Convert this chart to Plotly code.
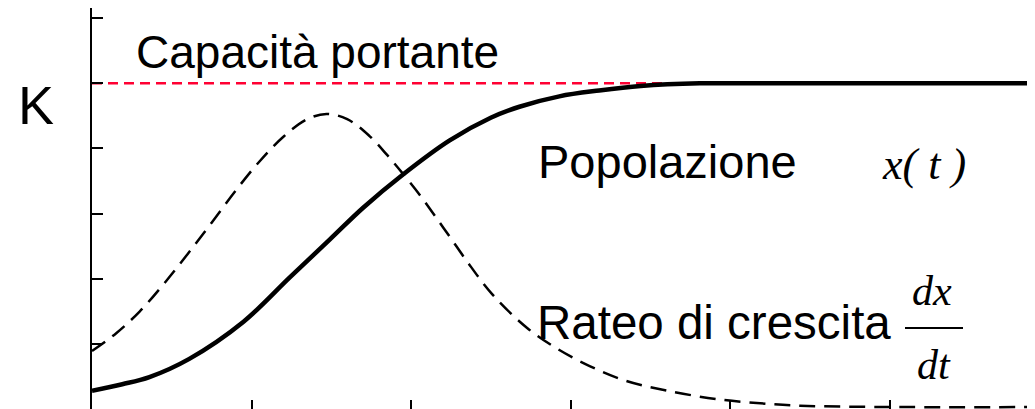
import plotly.graph_objects as go

# Data
K = 5.0
t_pop = [0.0, 0.19, 0.36, 0.61, 0.95, 1.24, 1.49, 1.70, 1.95, 2.24, 2.50, 2.68, 2.93, 3.18, 3.44, 3.81, 4.06, 5.91]
x_pop = [0.28, 0.38, 0.49, 0.77, 1.34, 2.02, 2.60, 3.09, 3.60, 4.12, 4.47, 4.64, 4.80, 4.89, 4.96, 5.0, 5.0, 5.0]

t_rate = [0.0, 0.15, 0.30, 0.45, 0.60, 0.75, 0.90, 1.05, 1.20, 1.35, 1.47, 1.60, 1.74, 1.85, 1.95,
          2.06, 2.16, 2.25, 2.35, 2.51, 2.73, 2.92, 3.12, 3.35, 3.61, 3.92, 4.23, 4.44, 5.07, 5.91]
r_rate = [0.89, 1.16, 1.50, 1.92, 2.38, 2.86, 3.35, 3.80, 4.18, 4.45, 4.53, 4.45, 4.19, 3.90, 3.61,
          3.27, 2.93, 2.62, 2.27, 1.76, 1.24, 0.92, 0.66, 0.43, 0.28, 0.15, 0.08, 0.05, 0.03, 0.03]

t_cap = [0.0, 5.91]
x_ticks = [0, 1, 2, 3, 4, 5]
y_ticks = [0, 1, 2, 3, 4, 5, 6]

# the page body adds an 8px offset, so the figure is laid out in screen coords minus 8
OFF = 8
W, H = 1035 - OFF, 409 - OFF
L = 92 - OFF
T = 8 - OFF
PW, PH = W - L, H - T


def px(x):
    return (x - OFF - L) / PW


def py(y):
    return (H - (y - OFF)) / PH


fig = go.Figure()
fig.add_trace(go.Scatter(x=t_cap, y=[K] * len(t_cap), mode="lines",
                         line=dict(color="#FF0033", width=2.5, dash="10px,6px"), hoverinfo="skip"))
fig.add_trace(go.Scatter(x=t_rate, y=r_rate, mode="lines", line_shape="spline",
                         line=dict(color="black", width=2.5, dash="16px,9px"), hoverinfo="skip"))
fig.add_trace(go.Scatter(x=t_pop, y=x_pop, mode="lines", line_shape="spline",
                         line=dict(color="black", width=4.5), hoverinfo="skip"))

sans = "Liberation Sans, Arial, sans-serif"
serif = "Liberation Serif, Times New Roman, serif"

ann = [
    dict(text="Capacità portante", x=px(134), y=py(52), xanchor="left", yanchor="middle",
         font=dict(family=sans, size=46, color="black")),
    dict(text="K", x=px(35.5), y=py(105), xanchor="center", yanchor="middle",
         font=dict(family=sans, size=54, color="black")),
    dict(text="Popolazione", x=px(536), y=py(161), xanchor="left", yanchor="middle",
         font=dict(family=sans, size=47, color="black")),
    dict(text="<i>x( t )</i>", x=px(880), y=py(164), xanchor="left", yanchor="middle",
         font=dict(family=serif, size=44, color="black")),
    dict(text="Rateo di crescita", x=px(535), y=py(322), xanchor="left", yanchor="middle",
         font=dict(family=sans, size=47.5, color="black")),
    dict(text="<i>dx</i>", x=px(932), y=py(291), xanchor="center", yanchor="middle",
         font=dict(family=serif, size=42, color="black")),
    dict(text="<i>dt</i>", x=px(934), y=py(365), xanchor="center", yanchor="middle",
         font=dict(family=serif, size=42, color="black")),
]
for a in ann:
    a.update(xref="paper", yref="paper", showarrow=False)

fig.update_layout(
    width=W, height=H,
    margin=dict(l=L, r=0, t=T, b=0, pad=0),
    paper_bgcolor="white", plot_bgcolor="white",
    showlegend=False,
    annotations=ann,
    shapes=[dict(type="line", xref="paper", yref="paper", x0=px(905), x1=px(963), y0=py(328), y1=py(328),
                 line=dict(color="black", width=2))],
    xaxis=dict(range=[0, PW / 159.5], tickvals=x_ticks, ticks="inside", ticklen=9, tickwidth=1.5,
               tickcolor="black", showticklabels=False, showgrid=False, zeroline=False, showline=False),
    yaxis=dict(range=[0, PH / 65.14], tickvals=y_ticks, ticks="inside", ticklen=11, tickwidth=1.5,
               tickcolor="black", showticklabels=False, showgrid=False, zeroline=False,
               showline=True, linecolor="black", linewidth=2),
)

fig.write_html("out.html")
